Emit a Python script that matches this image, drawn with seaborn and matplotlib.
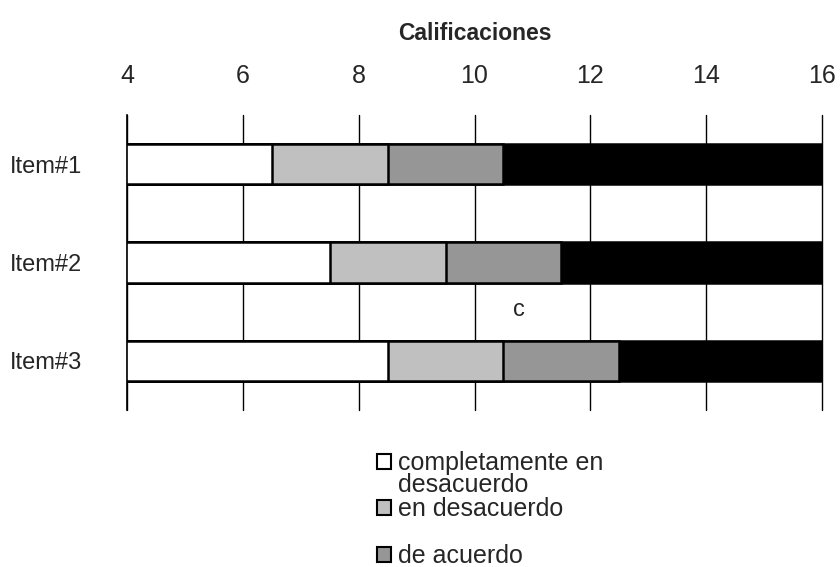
import pandas as pd
import matplotlib
matplotlib.use('Agg')
import matplotlib.pyplot as plt
from matplotlib.patches import Patch
import seaborn as sns

# Data
items = ['Item#1', 'Item#2', 'Item#3']
completamente_desacuerdo = [2.5, 3.5, 4.5]
en_desacuerdo = [2.0, 2.0, 2.0]
de_acuerdo = [2.0, 2.0, 2.0]
completamente_acuerdo = [5.5, 4.5, 3.5]
start = 4
series_names = ['completamente en desacuerdo', 'en desacuerdo', 'de acuerdo', 'completamente de acuerdo']
colors = ['#ffffff', '#c0c0c0', '#969696', '#000000']
xticks = [4, 6, 8, 10, 12, 14, 16]

sns.set_style("white")
plt.rcParams['font.family'] = ['Liberation Sans', 'DejaVu Sans']

df = pd.DataFrame({'item': items,
                   's1': completamente_desacuerdo, 's2': en_desacuerdo,
                   's3': de_acuerdo, 's4': completamente_acuerdo})
# cumulative right ends of each segment
df['c1'] = start + df['s1']
df['c2'] = df['c1'] + df['s2']
df['c3'] = df['c2'] + df['s3']
df['c4'] = df['c3'] + df['s4']

fig = plt.figure(figsize=(8.4, 5.67), dpi=100)
ax = fig.add_axes([0.1512, 0.2769, 0.8274, 0.5203])

# draw longest first so shorter segments sit on top
for col, color in zip(['c4', 'c3', 'c2', 'c1'], colors[::-1]):
    sns.barplot(data=df, x=col, y='item', color=color, edgecolor='black',
                linewidth=1.8, width=0.41, saturation=1, ax=ax, orient='h')

ax.set_xlim(4, 16)
ax.set_ylim(2.5, -0.5)
ax.set_xticks(xticks)
ax.xaxis.tick_top()
ax.xaxis.set_label_position('top')
ax.set_xlabel('Calificaciones', fontsize=16.5, fontweight='bold', labelpad=17)
ax.set_ylabel('')
ax.tick_params(axis='x', length=0, pad=19.5, labelsize=18)
ax.tick_params(axis='y', length=0, pad=84, labelsize=17)
for t in ax.get_yticklabels():
    t.set_horizontalalignment('left')
for x in xticks:
    ax.axvline(x, color='black', lw=1, zorder=0, clip_on=False)
for s in ax.spines.values():
    s.set_visible(False)
# left edge of the first segment
ax.spines['left'].set_visible(True)
ax.spines['left'].set_color('black')
ax.spines['left'].set_linewidth(1.2)

ax.text(10.77, 1.48, 'c', fontsize=17, ha='center', va='center')

handles = [Patch(facecolor=c, edgecolor='black', linewidth=1.5) for c in colors]
labels = ['completamente en', series_names[1], series_names[2], series_names[3]]
fig.legend(handles, labels, loc='upper left', bbox_to_anchor=(0.449, 0.2046), frameon=False,
           fontsize=18, handlelength=0.56, handleheight=0.56, handletextpad=0.28,
           labelspacing=0.9, borderaxespad=0, borderpad=0)
fig.text(0.4738, 1 - 485 / 567, 'desacuerdo', fontsize=18, va='center', ha='left')

plt.savefig('out.png', dpi=100)
plt.close()
